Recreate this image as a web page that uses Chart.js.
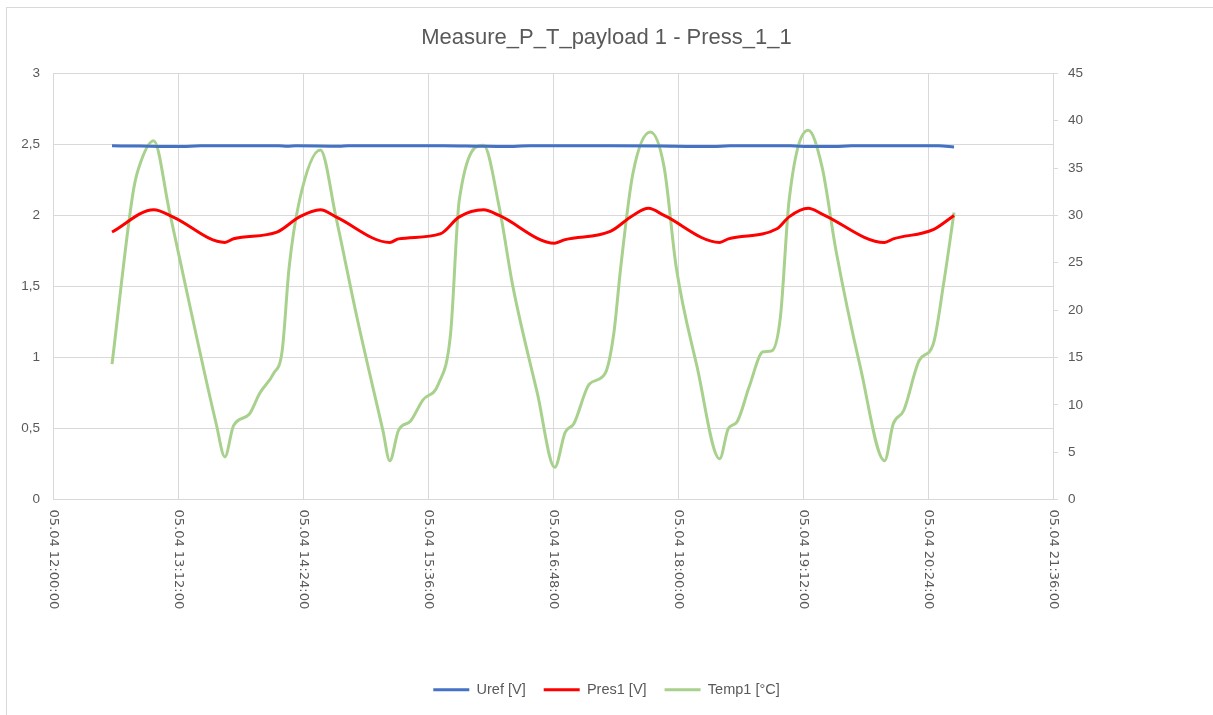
<!DOCTYPE html>
<html>
<head>
<meta charset="utf-8">
<script src="https://cdn.jsdelivr.net/npm/chart.js@4/dist/chart.umd.min.js"></script>
<style>
  html, body { margin: 0; padding: 0; background: #ffffff; }
  #wrap { position: absolute; left: 0; top: 0; width: 1213px; height: 715px; }
</style>
</head>
<body>
<div id="wrap"><canvas id="c" width="1213" height="715"></canvas></div>
<script>
const chartTitle = "Measure_P_T_payload 1 - Press_1_1";
const xTickLabels = ["05.04 12:00:00","05.04 13:12:00","05.04 14:24:00","05.04 15:36:00","05.04 16:48:00","05.04 18:00:00","05.04 19:12:00","05.04 20:24:00","05.04 21:36:00"];
const leftTicks = ["0","0,5","1","1,5","2","2,5","3"];

const urefTimes = ["12:34","12:50","13:05","13:15","13:25","14:10","14:15","14:20","14:45","14:50","15:00","15:45","16:05","16:20","16:35","17:20","17:50","18:10","18:20","18:30","19:05","19:15","19:30","19:40","20:30","20:39"];
const urefValues = [2.49,2.488,2.485,2.486,2.49,2.49,2.487,2.49,2.487,2.49,2.49,2.49,2.487,2.485,2.49,2.49,2.488,2.485,2.485,2.49,2.49,2.485,2.485,2.49,2.49,2.482];

const presTimes = ["12:34","12:58","13:09","13:39","13:44","14:09","14:22","14:34","14:43","15:14","15:19","15:43","15:54","16:08","16:17","16:49","16:55","17:21","17:34","17:43","17:52","18:24","18:29","18:57","19:04","19:15","19:23","19:59","20:04","20:27","20:39"];
const presValues = [1.883,2.04,1.99,1.81,1.836,1.883,1.99,2.04,1.99,1.81,1.835,1.87,1.99,2.04,2.0,1.805,1.83,1.887,2.0,2.05,2.0,1.81,1.835,1.906,1.99,2.05,2.01,1.81,1.835,1.90,2.0];

const tempTimes = ["12:34","12:46","12:49","12:58","13:07","13:19","13:34","13:39","13:44","13:53","13:59","14:07","14:12","14:16","14:22","14:34","14:43","14:55","15:10","15:14","15:19","15:26","15:33","15:42","15:49","15:54","16:08","16:17","16:25","16:39","16:49","16:55","17:00","17:09","17:18","17:23","17:27","17:34","17:44","17:52","17:59","18:11","18:24","18:29","18:34","18:41","18:49","18:54","18:59","19:04","19:15","19:23","19:31","19:45","19:59","20:04","20:10","20:19","20:27","20:33","20:39"];
const tempValues = [14.3,32.3,34.8,37.9,30.5,20.3,8.0,4.5,7.8,9.0,11.2,13.3,15.7,24.5,31.6,36.9,29.8,19.3,7.3,4.1,7.3,8.3,10.5,12.2,17.5,31.6,37.4,30.9,22.4,11.2,3.4,7.1,8.0,12.2,13.3,17.5,24.5,34.4,38.8,35.1,24.5,14.0,4.3,7.5,8.2,11.9,15.6,15.7,19.3,31.6,39.0,35.1,26.3,14.0,4.1,8.0,9.4,14.7,16.4,22.8,30.3];

const seriesNames = ["Uref [V]","Pres1 [V]","Temp1 [°C]"];
const seriesColors = ["#4472C4","#FF0000","#A9D18E"];

function toMin(t) {
  const p = t.split(":");
  return (parseInt(p[0], 10) - 12) * 60 + parseInt(p[1], 10);
}
function pts(times, vals) {
  return times.map((t, i) => ({ x: toMin(t), y: vals[i] }));
}

const textColor = "#595959";
const gridColor = "#d9d9d9";

const borderPlugin = {
  id: "outerBorder",
  beforeDraw(chart) {
    const ctx = chart.ctx;
    ctx.save();
    ctx.strokeStyle = "#d9d9d9";
    ctx.lineWidth = 1;
    ctx.strokeRect(6.5, 7.5, 1400, 900);
    ctx.restore();
  }
};

const xLabelPlugin = {
  id: "xLabels",
  afterDraw(chart) {
    const ctx = chart.ctx;
    const xs = chart.scales.x;
    const bottom = chart.chartArea.bottom;
    ctx.save();
    ctx.fillStyle = textColor;
    ctx.font = "13px 'DejaVu Sans'";
    ctx.textAlign = "left";
    ctx.textBaseline = "middle";
    xTickLabels.forEach((lab, i) => {
      const x = xs.getPixelForValue(i * 72);
      ctx.save();
      ctx.translate(x, bottom + 10);
      ctx.rotate(Math.PI / 2);
      ctx.fillText(lab, 0, 0);
      ctx.restore();
    });
    ctx.restore();
  }
};

new Chart(document.getElementById("c"), {
  type: "line",
  data: {
    datasets: [
      { label: seriesNames[0], data: pts(urefTimes, urefValues), yAxisID: "y", borderColor: seriesColors[0], backgroundColor: seriesColors[0], borderWidth: 3, pointRadius: 0, pointStyle: "line", cubicInterpolationMode: "monotone" },
      { label: seriesNames[1], data: pts(presTimes, presValues), yAxisID: "y", borderColor: seriesColors[1], backgroundColor: seriesColors[1], borderWidth: 3, pointRadius: 0, pointStyle: "line", cubicInterpolationMode: "monotone" },
      { label: seriesNames[2], data: pts(tempTimes, tempValues), yAxisID: "y1", borderColor: seriesColors[2], backgroundColor: seriesColors[2], borderWidth: 3, pointRadius: 0, pointStyle: "line", cubicInterpolationMode: "monotone" }
    ]
  },
  options: {
    responsive: false,
    animation: false,
    events: [],
    layout: { padding: { left: 0, right: 0, top: 0, bottom: 8 } },
    plugins: {
      title: {
        display: true,
        text: chartTitle,
        color: textColor,
        font: { family: "'Liberation Sans'", size: 22, weight: "normal" },
        padding: { top: 25, bottom: 22 }
      },
      legend: {
        position: "bottom",
        labels: {
          color: textColor,
          font: { family: "'Liberation Sans'", size: 14.5 },
          usePointStyle: true,
          pointStyle: "line",
          pointStyleWidth: 36,
          boxHeight: 14,
          padding: 18
        }
      },
      tooltip: { enabled: false }
    },
    scales: {
      x: {
        type: "linear",
        min: 0,
        max: 576,
        ticks: { stepSize: 72, display: false },
        grid: { color: gridColor, lineWidth: 1, drawTicks: false },
        border: { display: true, color: gridColor, width: 1 },
        afterFit(s) { s.height = 165; }
      },
      y: {
        position: "left",
        min: 0,
        max: 3,
        ticks: {
          stepSize: 0.5,
          color: textColor,
          font: { family: "'Liberation Sans'", size: 13.5 },
          padding: 13,
          callback: (v) => leftTicks[Math.round(v * 2)]
        },
        grid: { color: gridColor, lineWidth: 1, drawTicks: false },
        border: { display: false },
        afterFit(s) { s.width = 53; }
      },
      y1: {
        position: "right",
        min: 0,
        max: 45,
        ticks: {
          stepSize: 5,
          color: textColor,
          font: { family: "'Liberation Sans'", size: 13.5 },
          padding: 10
        },
        grid: { display: true, drawOnChartArea: false, drawTicks: true, tickLength: 5, color: gridColor },
        border: { display: true, color: gridColor, width: 1 },
        afterFit(s) { s.width = 160; }
      }
    }
  },
  plugins: [borderPlugin, xLabelPlugin]
});
</script>
</body>
</html>
